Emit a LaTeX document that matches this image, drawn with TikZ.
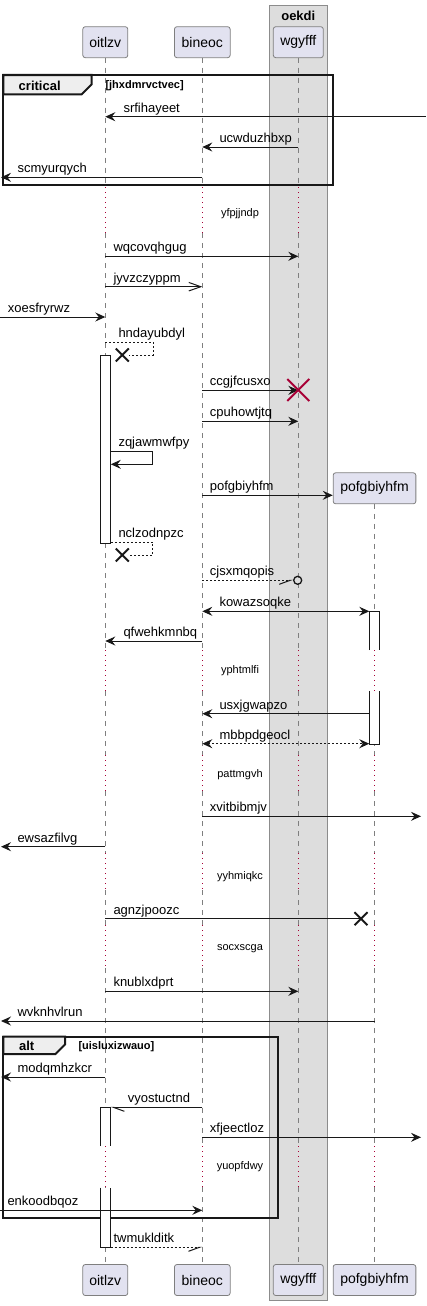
\documentclass[tikz,border=0pt]{standalone}
\usepackage{fontspec}
\setmainfont{Liberation Sans}
\usetikzlibrary{arrows.meta,positioning,shapes.misc}

\definecolor{partfill}{HTML}{E2E2F0}
\definecolor{partline}{HTML}{7F7F7F}
\definecolor{grpfill}{HTML}{DDDDDD}
\definecolor{grpline}{HTML}{8C8C8C}
\definecolor{dlyred}{HTML}{A80036}
\definecolor{tabfill}{HTML}{EEEEEE}
\definecolor{lnc}{HTML}{181818}

\tikzset{
  part/.style={draw=partline, fill=partfill, line width=0.8pt, rounded corners=2.5pt,
    minimum height=31pt, inner sep=0pt, font=\fontsize{14}{17}\selectfont},
  grp/.style={draw=grpline, fill=grpfill, line width=1pt},
  grptitle/.style={inner sep=0pt, font=\fontsize{13}{15}\selectfont\bfseries},
  life/.style={draw=partline, line width=0.8pt, dash pattern=on 5pt off 5pt},
  dly/.style={draw=dlyred, line width=1pt, dash pattern=on 1pt off 4pt},
  dlab/.style={anchor=mid, inner sep=0pt, font=\fontsize{11}{13}\selectfont},
  frm/.style={draw=lnc, line width=2pt},
  ftab/.style={frm, fill=tabfill},
  ftitle/.style={inner sep=0pt, font=\fontsize{13}{15}\selectfont\bfseries},
  fguard/.style={anchor=west, inner sep=0pt, font=\fontsize{11}{13}\selectfont\bfseries},
  act/.style={draw=lnc, fill=white, line width=1pt, minimum width=10pt, inner sep=0pt},
  actseg/.style={fill=white, minimum width=10pt, inner sep=0pt},
  actline/.style={draw=lnc, line width=1pt},
  mlab/.style={anchor=base west, inner sep=0pt, font=\fontsize{13}{15}\selectfont},
  msg/.style={draw=lnc, line width=1pt, -{Stealth[length=10pt,width=9pt,inset=3.5pt]}},
  duplex/.style={draw=lnc, line width=1pt,
    {Stealth[length=10pt,width=9pt,inset=3.5pt]}-{Stealth[length=10pt,width=9pt,inset=3.5pt]}},
  rtn/.style={dash pattern=on 2pt off 2pt},
  async/.style={draw=lnc, line width=1pt, -{Straight Barb[length=12pt,width=8.5pt]}},
  halfdn/.style={draw=lnc, line width=1pt, -{Straight Barb[harpoon,swap,length=11pt,width=8pt]}},
  halfup/.style={draw=lnc, line width=1pt, -{Straight Barb[harpoon,length=11pt,width=8pt]}},
  lostx/.style={cross out, draw=lnc, line width=2pt, minimum size=11pt, inner sep=0pt},
  killx/.style={cross out, draw=dlyred, line width=2pt, minimum size=20pt, inner sep=0pt},
  endo/.style={circle, draw=lnc, line width=1.3pt, minimum size=8pt, inner sep=0pt},
}

\begin{document}
\begin{tikzpicture}[x=1pt,y=-1pt]
  \useasboundingbox (0,0) rectangle (426,1306);
  \coordinate (outL) at (0,0);
  \coordinate (tipL) at (1,0);
  \coordinate (outR) at (426,0);
  \coordinate (tipR) at (421,0);

  % box group
  \draw[grp] (269.3,6) rectangle (327.3,1300.7);
  \node[grptitle] (oekdi) at (298.3,15.5) {oekdi};

  % participants
  \node[part, minimum width=45pt] (o1) at (105.3,42.2) {oitlzv};
  \node[part, minimum width=55.7pt] (b1) at (202.3,42.2) {bineoc};
  \node[part, minimum width=50pt] (w1) at (298.3,42.2) {wgyfff};
  \node[part, minimum width=82.7pt] (p1) at (374.5,488.3) {pofgbiyhfm};

  % lifelines
  \foreach \p in {o1,b1,w1}
    \foreach \ya/\yb in {57.7/187,233/650,691/755,791/853,890/925,968/1146,1187/1264.5}
      \draw[life] (\p |- 0,\ya) -- (\p |- 0,\yb);
  \foreach \ya/\yb in {503.8/650,691/755,791/853,890/925,968/1146,1187/1264.5}
    \draw[life] (p1 |- 0,\ya) -- (p1 |- 0,\yb);
  \foreach \p in {o1,b1,w1}
    \foreach \ya/\yb in {187/233,650/691,755/791,853/890,925/968,1146/1187}
      \draw[dly] (\p |- 0,\ya) -- (\p |- 0,\yb);
  \foreach \ya/\yb in {650/691,755/791,853/890,925/968,1146/1187}
    \draw[dly] (p1 |- 0,\ya) -- (p1 |- 0,\yb);

  % delays
  \node[dlab] (d1) at (240,214.3) {yfpjjndp};
  \node[dlab] (d2) at (240,671) {yphtmlfi};
  \node[dlab] (d3) at (240,775) {pattmgvh};
  \node[dlab] (d4) at (240,876.7) {yyhmiqkc};
  \node[dlab] (d5) at (240,948.3) {socxscga};
  \node[dlab] (d6) at (240,1167.3) {yuopfdwy};

  % frames
  \draw[frm] (3.3,75) rectangle (333.3,185);
  \draw[ftab] (3.3,75) -- (91.7,75) -- (91.7,84.3) -- (81.7,94.3) -- (3.3,94.3) -- cycle;
  \node[ftitle] (crit) at (39.7,86) {critical};
  \node[fguard] (critg) at (105.3,86) {[jhxdmrvctvec]};

  \draw[frm] (3.3,1036.7) rectangle (278.3,1218.3);
  \draw[ftab] (3.3,1036.7) -- (65,1036.7) -- (65,1044.5) -- (55.5,1054) -- (3.3,1054) -- cycle;
  \node[ftitle] (alt) at (26.7,1046.2) {alt};
  \node[fguard] (altg) at (78.3,1046.7) {[uisluxizwauo]};

  % bottom participants
  \node[part, minimum width=45pt] (o2) at (o1 |- 0,1280) {oitlzv};
  \node[part, minimum width=55.7pt] (b2) at (b1 |- 0,1280) {bineoc};
  \node[part, minimum width=50pt] (w2) at (w1 |- 0,1280) {wgyfff};
  \node[part, minimum width=82.7pt] (p2) at (p1 |- 0,1280) {pofgbiyhfm};

  % activations
  \node[act, minimum height=188.3pt] (act1) at (o1 |- 0,449.15) {};
  \node[actseg, minimum height=38.7pt] (act2a) at (p1 |- 0,630.65) {};
  \draw[actline] (act2a.south west) -- (act2a.north west) -- (act2a.north east) -- (act2a.south east);
  \node[actseg, minimum height=53pt] (act2b) at (p1 |- 0,717.5) {};
  \draw[actline] (act2b.north west) -- (act2b.south west) -- (act2b.south east) -- (act2b.north east);
  \node[actseg, minimum height=38.7pt] (act3a) at (o1 |- 0,1126.65) {};
  \draw[actline] (act3a.south west) -- (act3a.north west) -- (act3a.north east) -- (act3a.south east);
  \node[actseg, minimum height=59.6pt] (act3b) at (o1 |- 0,1217.5) {};
  \draw[actline] (act3b.north west) -- (act3b.south west) -- (act3b.south east) -- (act3b.north east);

  % messages
  \draw[msg] (outR |- 0,116.7) -- (o1 |- 0,116.7);
  \node[mlab] (m1) at (123.3,112.2) {srfihayeet};
  \draw[msg] (w1 |- 0,147) -- (b1 |- 0,147);
  \node[mlab] (m2) at (219.3,142.5) {ucwduzhbxp};
  \draw[msg] (b1 |- 0,177.3) -- (tipL |- 0,177.3);
  \node[mlab] (m3) at (17.3,172.8) {scmyurqych};

  \draw[msg] (o1 |- 0,256.3) -- (w1 |- 0,256.3);
  \node[mlab] (m4) at (113.3,251.8) {wqcovqhgug};
  \draw[async] (o1 |- 0,286.7) -- (b1 |- 0,286.7);
  \node[mlab] (m5) at (113.3,282.2) {jyvzczyppm};
  \draw[msg] (outL |- 0,317) -- (o1 |- 0,317);
  \node[mlab] (m6) at (7.7,312.5) {xoesfryrwz};

  \node[lostx] (x1) at (122.3,355) {};
  \draw[draw=lnc, line width=1pt, rtn] (o1 |- 0,342.3) -- ++(48,0) -- ++(0,12.7) -- (x1);
  \node[mlab] (m7) at (118.3,337.8) {hndayubdyl};

  \draw[msg] (b1 |- 0,390.3) -- (w1 |- 0,390.3);
  \node[killx] (k1) at (w1 |- 0,390) {};
  \node[mlab] (m8) at (209.7,385.8) {ccgjfcusxo};
  \draw[msg] (b1 |- 0,421.3) -- (w1 |- 0,421.3);
  \node[mlab] (m9) at (209.7,416.8) {cpuhowtjtq};

  \draw[msg] (act1.east |- 0,451.3) -- ++(42,0) -- ++(0,13) -- (act1.east |- 0,464.3);
  \node[mlab] (m10) at (118.3,446.8) {zqjawmwfpy};
  \draw[msg] (b1 |- 0,495.3) -- (p1.west |- 0,495.3);
  \node[mlab] (m11) at (209.7,490.8) {pofgbiyhfm};

  \node[lostx] (x2) at (122.3,555) {};
  \draw[draw=lnc, line width=1pt, rtn] (act1.east |- 0,542.3) -- ++(42,0) -- ++(0,12.7) -- (x2);
  \node[mlab] (m12) at (118.3,537.8) {nclzodnpzc};

  \node[endo] (c1) at (297.7,580.3) {};
  \draw[halfdn, rtn] (b1 |- 0,580.3) -- (c1.west);
  \node[mlab] (m13) at (209.7,575.8) {cjsxmqopis};

  \draw[duplex] (b1 |- 0,611.3) -- (act2a.west |- 0,611.3);
  \node[mlab] (m14) at (219.3,606.8) {kowazsoqke};
  \draw[msg] (b1 |- 0,641) -- (o1 |- 0,641);
  \node[mlab] (m15) at (123.3,636.5) {qfwehkmnbq};

  \draw[msg] (act2b.west |- 0,713.7) -- (b1 |- 0,713.7);
  \node[mlab] (m16) at (219.3,709.2) {usxjgwapzo};
  \draw[duplex, rtn] (b1 |- 0,743.7) -- (act2b.west |- 0,743.7);
  \node[mlab] (m17) at (219.3,739.2) {mbbpdgeocl};

  \draw[msg] (b1 |- 0,816.3) -- (tipR |- 0,816.3);
  \node[mlab] (m18) at (209.7,811.8) {xvitbibmjv};
  \draw[msg] (o1 |- 0,846.7) -- (tipL |- 0,846.7);
  \node[mlab] (m19) at (17.3,842.2) {ewsazfilvg};

  \node[lostx] (x3) at (361,918.7) {};
  \draw[draw=lnc, line width=1pt] (o1 |- 0,918.7) -- (x3.center);
  \node[mlab] (m20) at (113.3,914.2) {agnzjpoozc};

  \draw[msg] (o1 |- 0,991.3) -- (w1 |- 0,991.3);
  \node[mlab] (m21) at (113.3,986.8) {knublxdprt};
  \draw[msg] (p1 |- 0,1021) -- (tipL |- 0,1021);
  \node[mlab] (m22) at (17.3,1016.5) {wvknhvlrun};

  \draw[msg] (o1 |- 0,1077) -- (tipL |- 0,1077);
  \node[mlab] (m23) at (17.3,1072.5) {modqmhzkcr};
  \draw[halfup] (b1 |- 0,1107.3) -- (act3a.east |- 0,1107.3);
  \node[mlab] (m24) at (127.7,1102.8) {vyostuctnd};
  \draw[msg] (b1 |- 0,1137.3) -- (tipR |- 0,1137.3);
  \node[mlab] (m25) at (209.7,1132.8) {xfjeectloz};
  \draw[msg] (outL |- 0,1210.3) -- (b1 |- 0,1210.3);
  \node[mlab] (m26) at (7.3,1205.8) {enkoodbqoz};

  \draw[halfdn, rtn] (act3b.east |- 0,1247.3) -- (b1 |- 0,1247.3);
  \node[mlab] (m27) at (113.3,1242.8) {twmuklditk};
\end{tikzpicture}
\end{document}
